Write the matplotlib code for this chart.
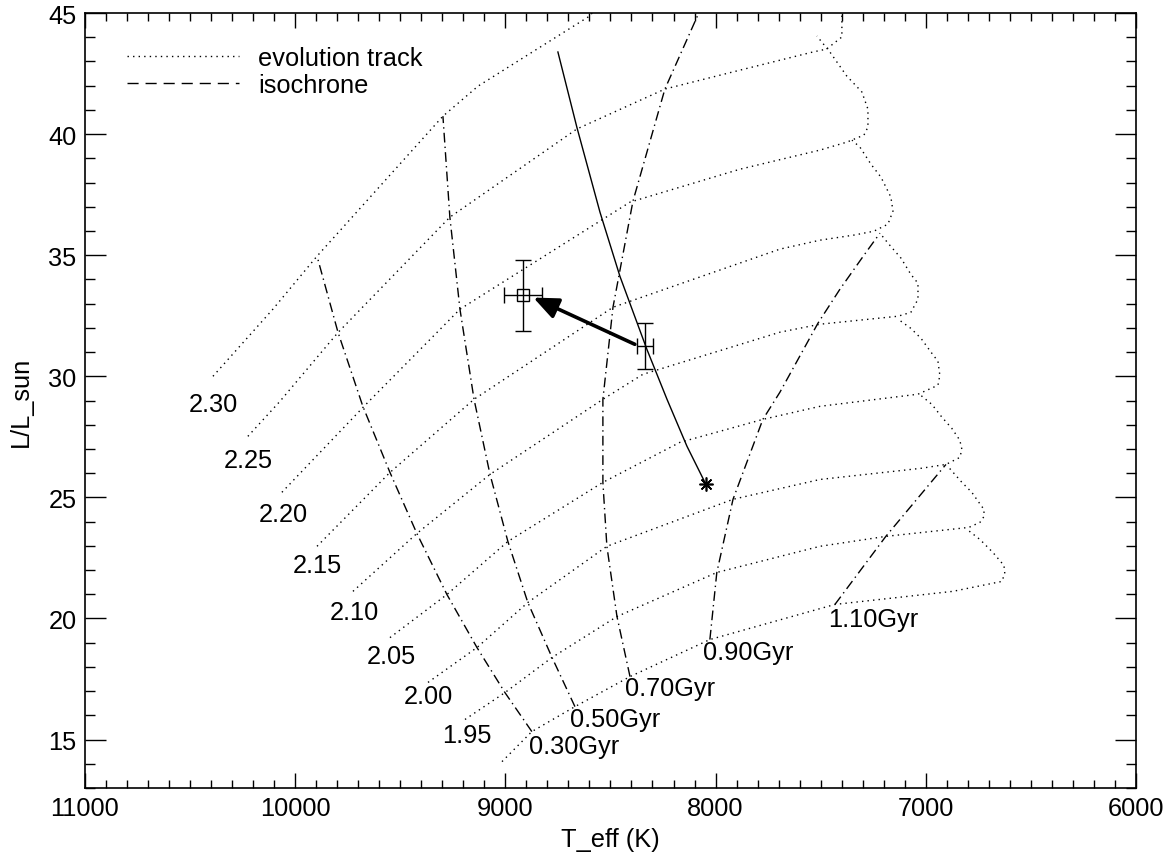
import matplotlib
matplotlib.use('Agg')
import matplotlib.pyplot as plt
from matplotlib.lines import Line2D
from matplotlib.ticker import MultipleLocator

plt.rcParams['font.family'] = ['Liberation Sans', 'DejaVu Sans']
plt.rcParams['font.size'] = 18.3

# evolution tracks, 1.90 ... 2.30 Msun (Teff in K, L in Lsun)
masses = ['1.90', '1.95', '2.00', '2.05', '2.10', '2.15', '2.20', '2.25', '2.30']
track_teff = [
    [9016, 8874, 8669, 8407, 8027, 7432, 6871, 6638, 6624, 6628, 6681, 6742, 6804],
    [9192, 9002, 8778, 8469, 7994, 7503, 7190, 6795, 6742, 6723, 6723, 6747, 6781, 6828, 6895],
    [9368, 9135, 8893, 8517, 7917, 7503, 7023, 6904, 6838, 6828, 6838, 6876, 6923, 6971, 7023],
    [9549, 9278, 8988, 8536, 8170, 7775, 7503, 7037, 6942, 6933, 6942, 6971, 7023, 7071, 7132],
    [9725, 9421, 9073, 8536, 8346, 7694, 7503, 7132, 7071, 7037, 7037, 7071, 7118, 7180, 7218],
    [9896, 9549, 9149, 8488, 7694, 7503, 7342, 7247, 7180, 7156, 7166, 7213, 7261, 7313, 7351],
    [10063, 9668, 9216, 8407, 7884, 7503, 7375, 7294, 7275, 7275, 7304, 7377, 7456, 7518],
    [10225, 10072, 9796, 9264, 8660, 8241, 7884, 7537, 7472, 7399, 7399],
    [10391, 10106, 9896, 9297, 9130, 8598, 8569],
]
track_lum = [
    [14.09, 15.33, 16.36, 17.60, 19.13, 20.58, 21.12, 21.53, 21.86, 22.19, 22.73, 23.26, 23.68],
    [15.83, 16.94, 18.39, 20.08, 21.90, 22.98, 23.39, 23.76, 23.97, 24.21, 24.50, 24.79, 25.21, 25.62, 26.28],
    [17.36, 18.80, 20.66, 22.98, 24.92, 25.74, 26.20, 26.36, 26.65, 26.98, 27.36, 27.85, 28.31, 28.84, 29.21],
    [19.21, 20.99, 23.18, 25.62, 27.27, 28.22, 28.76, 29.26, 29.63, 30.04, 30.62, 30.95, 31.57, 31.98, 32.36],
    [21.12, 23.51, 25.95, 29.05, 30.08, 31.82, 32.15, 32.48, 32.64, 33.18, 33.84, 34.21, 34.88, 35.50, 35.91],
    [22.98, 26.03, 29.05, 32.85, 35.25, 35.62, 35.83, 35.99, 36.28, 36.82, 37.40, 38.22, 38.76, 39.46, 39.75],
    [25.21, 28.80, 32.77, 37.19, 38.55, 39.34, 39.67, 39.96, 40.29, 41.03, 41.74, 42.41, 43.39, 44.05],
    [27.52, 28.97, 31.81, 36.57, 40.21, 41.86, 42.64, 43.39, 43.51, 44.01, 45.2],
    [30.00, 32.77, 34.96, 40.74, 41.98, 44.88, 45.2],
]
# mass labels near the ZAMS end (1.90 label falls outside the plot)
label_masses = ['1.95', '2.00', '2.05', '2.10', '2.15', '2.20', '2.25', '2.30']
label_teff = [9183, 9368, 9544, 9716, 9892, 10058, 10225, 10391]
label_lum = [14.92, 16.53, 18.18, 19.96, 21.90, 24.01, 26.24, 28.55]

# isochrones
iso_ages = ['0.30Gyr', '0.50Gyr', '0.70Gyr', '0.90Gyr', '1.10Gyr']
iso_teff = [
    [8874, 9002, 9135, 9278, 9421, 9549, 9678, 9796, 9896],
    [8669, 8778, 8893, 8988, 9073, 9149, 9216, 9264, 9297],
    [8407, 8469, 8517, 8536, 8536, 8488, 8393, 8241, 8085],
    [8027, 7994, 7917, 7775, 7694, 7513, 7408, 7294, 7218],
    [7432, 7190, 6904],
]
iso_lum = [
    [15.33, 16.94, 18.80, 20.99, 23.51, 26.03, 28.76, 31.81, 34.96],
    [16.36, 18.39, 20.66, 23.18, 25.95, 29.05, 32.77, 36.57, 40.74],
    [17.60, 20.08, 22.98, 25.62, 29.05, 32.85, 37.23, 41.86, 44.90],
    [19.13, 21.90, 24.92, 28.22, 29.34, 32.19, 33.60, 35.00, 35.91],
    [20.58, 23.39, 26.36],
]
iso_label_teff = [8888, 8693, 8431, 8060, 7465]
iso_label_lum = [14.46, 15.54, 16.82, 18.31, 19.67]

# solid curve ending at the asterisk
fit_teff = [8750, 8660, 8550, 8455, 8327, 8231, 8136, 8046]
fit_lum = [43.39, 40.29, 36.78, 34.13, 31.12, 29.05, 27.11, 25.54]

# observed positions with errors
obs_teff = [8918, 8336]
obs_lum = [33.35, 31.25]
obs_teff_err = [90, 40]
obs_lum_err = [1.47, 0.95]
arrow_from = (8384, 31.32)
arrow_to = (8867, 33.25)

dotted = (0, (1, 3))
dashdot = (0, (7, 3, 1, 3))

fig = plt.figure(figsize=(11.67, 8.54), dpi=100)
ax = fig.add_axes([0.0728, 0.0761, 0.9006, 0.9075])

for t, l in zip(track_teff, track_lum):
    ax.plot(t, l, color='k', lw=1, linestyle=dotted)
for m, t, l in zip(label_masses, label_teff, label_lum):
    ax.text(t, l, m, ha='center', va='baseline')

for age, t, l, lt, ll in zip(iso_ages, iso_teff, iso_lum, iso_label_teff, iso_label_lum):
    ax.plot(t, l, color='k', lw=1, linestyle=dashdot)
    ax.text(lt, ll, age, ha='left', va='baseline')

ax.plot(fit_teff, fit_lum, color='k', lw=1)
ax.plot(fit_teff[-1], fit_lum[-1], marker=(8, 2, 0), ms=10, mew=1.2, color='k')

ax.errorbar(obs_teff[0], obs_lum[0], xerr=obs_teff_err[0], yerr=obs_lum_err[0],
            fmt='s', ms=8, mfc='none', mec='k', mew=1, ecolor='k', elinewidth=1, capsize=6)
ax.errorbar(obs_teff[1], obs_lum[1], xerr=obs_teff_err[1], yerr=obs_lum_err[1],
            fmt='none', ecolor='k', elinewidth=1, capsize=6)
ax.annotate('', xy=arrow_to, xytext=arrow_from,
            arrowprops=dict(arrowstyle='-|>,head_length=0.75,head_width=0.32',
                            lw=2.6, color='k', shrinkA=0, shrinkB=0, mutation_scale=20))

handles = [Line2D([], [], color='k', lw=1, linestyle=dotted),
           Line2D([], [], color='k', lw=1, linestyle=(0, (8, 5)))]
ax.legend(handles, ['evolution track', 'isochrone'], loc='upper left',
          bbox_to_anchor=(0.04, 0.957), frameon=False, borderpad=0, borderaxespad=0,
          handlelength=4.4, handletextpad=0.75, labelspacing=0.1)

ax.set_xlim(11000, 6000)
ax.set_ylim(13, 45)
ax.xaxis.set_major_locator(MultipleLocator(1000))
ax.xaxis.set_minor_locator(MultipleLocator(100))
ax.yaxis.set_major_locator(MultipleLocator(5))
ax.yaxis.set_minor_locator(MultipleLocator(1))
ax.tick_params(which='both', direction='in', top=True, right=True, width=1, pad=6)
ax.tick_params(axis='x', which='major', length=11)
ax.tick_params(axis='x', which='minor', length=5.5)
ax.tick_params(axis='y', which='major', length=15)
ax.tick_params(axis='y', which='minor', length=7.5)
for s in ax.spines.values():
    s.set_linewidth(1.2)

ax.set_xlabel('T_eff (K)', labelpad=5)
ax.set_ylabel('L/L_sun', labelpad=11)

fig.savefig('out.png', dpi=100)
